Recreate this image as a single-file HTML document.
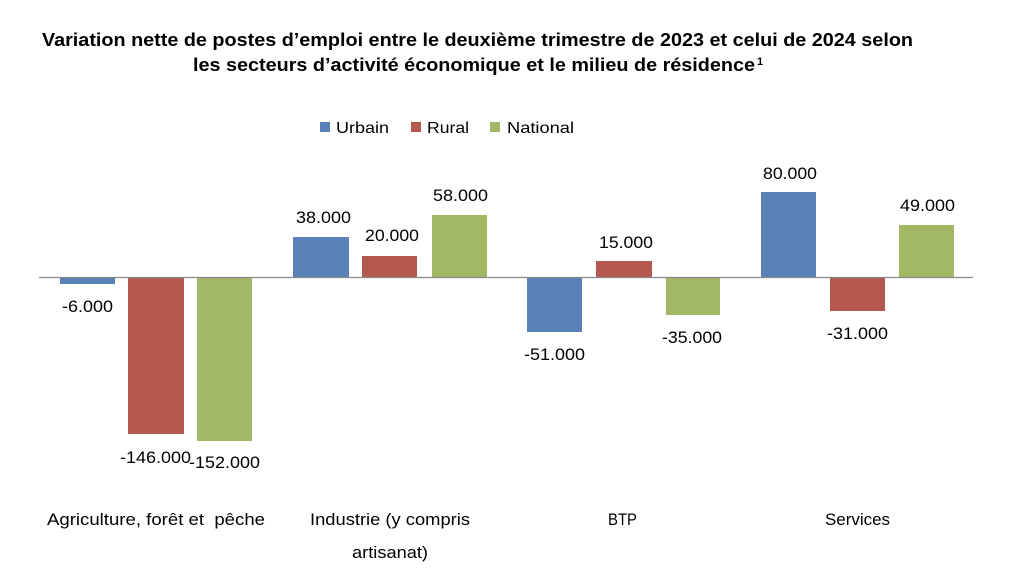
<!DOCTYPE html>
<html>
<head>
<meta charset="utf-8">
<style>
html,body{margin:0;padding:0;background:#fff;}
svg{display:block;}
text{font-family:"Liberation Sans",sans-serif;fill:#000;}
</style>
</head>
<body>
<svg width="1024" height="571" viewBox="0 0 1024 571" xmlns="http://www.w3.org/2000/svg">
<rect width="1024" height="571" fill="#fff"/>
<!-- Title -->
<text x="42" y="46" font-size="18.5" font-weight="bold" textLength="871" lengthAdjust="spacingAndGlyphs">Variation nette de postes d’emploi entre le deuxième trimestre de 2023 et celui de 2024 selon</text>
<text x="193" y="71" font-size="18.5" font-weight="bold" textLength="562" lengthAdjust="spacingAndGlyphs">les secteurs d’activité économique et le milieu de résidence</text>
<text x="757" y="65" font-size="11" font-weight="bold">1</text>

<!-- Legend -->
<rect x="320" y="122" width="10" height="10" fill="#5a80b8"/>
<text x="336" y="133" font-size="16" textLength="53" lengthAdjust="spacingAndGlyphs">Urbain</text>
<rect x="411" y="122" width="10" height="10" fill="#b4574f"/>
<text x="427" y="133" font-size="16" textLength="42" lengthAdjust="spacingAndGlyphs">Rural</text>
<rect x="490" y="122" width="10" height="10" fill="#a3b865"/>
<text x="507" y="133" font-size="16" textLength="67" lengthAdjust="spacingAndGlyphs">National</text>

<!-- Bars -->
<g>
<rect x="60" y="277" width="55" height="7" fill="#5a80b8"/>
<rect x="128" y="277" width="56" height="157" fill="#b4574f"/>
<rect x="197" y="277" width="55" height="164" fill="#a3b865"/>

<rect x="293" y="237" width="56" height="40" fill="#5a80b8"/>
<rect x="362" y="256" width="55" height="21" fill="#b4574f"/>
<rect x="432" y="215" width="55" height="62" fill="#a3b865"/>

<rect x="527" y="277" width="55" height="55" fill="#5a80b8"/>
<rect x="596" y="261" width="56" height="16" fill="#b4574f"/>
<rect x="666" y="277" width="54" height="38" fill="#a3b865"/>

<rect x="761" y="192" width="55" height="85" fill="#5a80b8"/>
<rect x="830" y="277" width="55" height="34" fill="#b4574f"/>
<rect x="899" y="225" width="55" height="52" fill="#a3b865"/>
</g>

<!-- Axis -->
<line x1="39" y1="277.5" x2="973" y2="277.5" stroke="#8a8a8a" stroke-width="1.2"/>

<!-- Data labels -->
<g font-size="16.5" text-anchor="middle">
<text x="87.5" y="312" textLength="51" lengthAdjust="spacingAndGlyphs">-6.000</text>
<text x="155.5" y="463" textLength="71" lengthAdjust="spacingAndGlyphs">-146.000</text>
<text x="224.5" y="468" textLength="71" lengthAdjust="spacingAndGlyphs">-152.000</text>
<text x="323.5" y="223" textLength="55" lengthAdjust="spacingAndGlyphs">38.000</text>
<text x="392" y="241" textLength="54" lengthAdjust="spacingAndGlyphs">20.000</text>
<text x="460.5" y="201" textLength="55" lengthAdjust="spacingAndGlyphs">58.000</text>
<text x="554.5" y="360" textLength="61" lengthAdjust="spacingAndGlyphs">-51.000</text>
<text x="626" y="248" textLength="54" lengthAdjust="spacingAndGlyphs">15.000</text>
<text x="692" y="343" textLength="60" lengthAdjust="spacingAndGlyphs">-35.000</text>
<text x="790" y="179" textLength="54" lengthAdjust="spacingAndGlyphs">80.000</text>
<text x="857.5" y="339" textLength="61" lengthAdjust="spacingAndGlyphs">-31.000</text>
<text x="927.5" y="211" textLength="55" lengthAdjust="spacingAndGlyphs">49.000</text>
</g>

<!-- Category labels -->
<g font-size="16.5" text-anchor="middle">
<text x="156" y="525" textLength="218" lengthAdjust="spacingAndGlyphs" xml:space="preserve">Agriculture, forêt et  pêche</text>
<text x="390" y="525" textLength="160" lengthAdjust="spacingAndGlyphs">Industrie (y compris</text>
<text x="390" y="558" textLength="76" lengthAdjust="spacingAndGlyphs">artisanat)</text>
<text x="622.5" y="525" textLength="29" lengthAdjust="spacingAndGlyphs">BTP</text>
<text x="857.5" y="525" textLength="65" lengthAdjust="spacingAndGlyphs">Services</text>
</g>
</svg>
</body>
</html>
